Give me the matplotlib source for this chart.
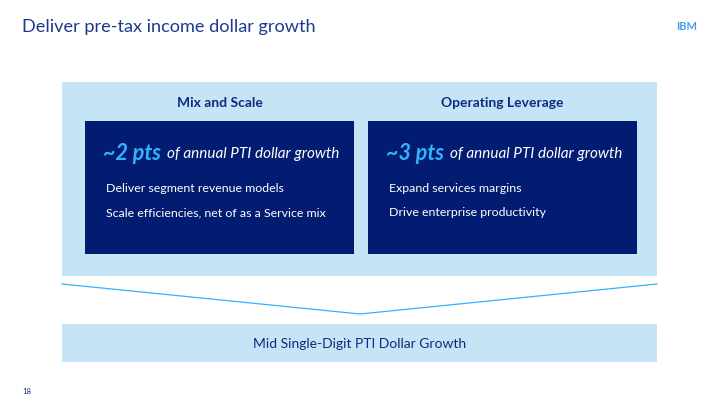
import matplotlib.pyplot as plt
from matplotlib.patches import Rectangle

title = 'Deliver pre-tax income dollar growth'
headers = ['Mix and Scale', 'Operating Leverage']
pts = ['~2 pts', '~3 pts']
pts_suffix = 'of annual PTI dollar growth'
bullets = [
    ['Deliver segment revenue models', 'Scale efficiencies, net of as a Service mix'],
    ['Expand services margins', 'Drive enterprise productivity'],
]
result = 'Mid Single-Digit PTI Dollar Growth'
page = '18'

navy = '#0f2a80'
dark_box = '#011c70'
light = '#c5e4f6'
cyan = '#33b1ff'

plt.rcParams['font.family'] = ['Lato', 'DejaVu Sans']

fig = plt.figure(figsize=(7.2, 4.05), dpi=100)
ax = fig.add_axes([0, 0, 1, 1])
ax.set_xlim(0, 720)
ax.set_ylim(405, 0)
ax.axis('off')

ax.text(22, 27, title, color='#1c3b8f', fontsize=13.1, va='center', ha='left')
ax.text(687, 27, 'IBM', color='#4d9be6', fontsize=8, fontweight='bold',
        va='center', ha='center')

# outer light panel
ax.add_patch(Rectangle((62, 82), 595, 194, color=light, lw=0))

# two columns
col_x = [85, 368]
box_w = 269
fig.canvas.draw()
renderer = fig.canvas.get_renderer()
for i in range(2):
    x0 = col_x[i]
    ax.text(x0 + box_w / 2, 103, headers[i], color=navy, fontsize=10,
            fontweight='bold', ha='center', va='center')
    ax.add_patch(Rectangle((x0, 121), box_w, 133, color=dark_box, lw=0))
    t = ax.text(x0 + 18, 153, pts[i], color=cyan, fontsize=15.5, fontweight='bold',
                style='italic', ha='left', va='center')
    bb = t.get_window_extent(renderer=renderer)
    x_end = ax.transData.inverted().transform((bb.x1, bb.y0))[0]
    ax.text(x_end + 6, 154, pts_suffix, color='white', fontsize=11,
            style='italic', ha='left', va='center')
    for j, b in enumerate(bullets[i]):
        ax.text(x0 + 21, 189 + j * 24, b, color='white', fontsize=8.9,
                ha='left', va='center')

# converging lines
ax.plot([62, 360, 657], [284, 314, 284], color=cyan, lw=0.9)

# result bar
ax.add_patch(Rectangle((62, 324), 595, 38, color=light, lw=0))
ax.text(360, 344, result, color=navy, fontsize=10, ha='center', va='center')

ax.text(22, 391, page, color=navy, fontsize=5.5, ha='left', va='center')

fig.savefig('out.png', dpi=100)
